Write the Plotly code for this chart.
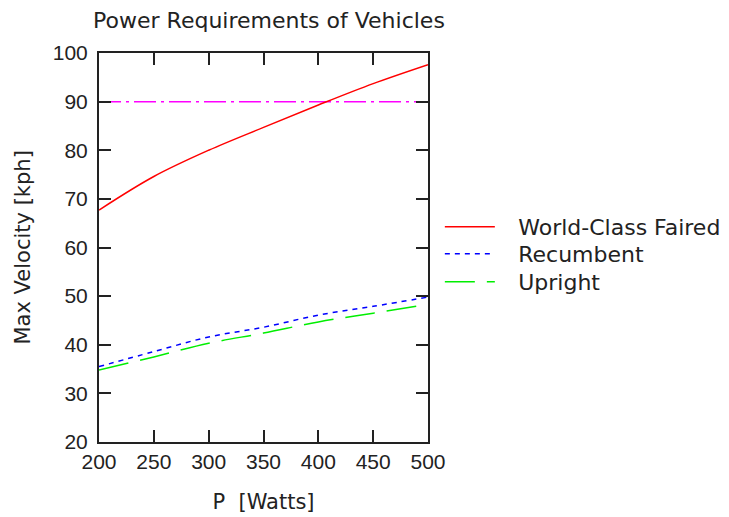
import plotly.graph_objects as go

power = [200, 250, 300, 350, 400, 450, 500]
faired = [67.7, 74.6, 80.0, 84.7, 89.3, 93.7, 97.6]
recumbent = [35.5, 38.6, 41.6, 43.6, 46.1, 47.9, 49.8]
upright = [34.8, 37.5, 40.3, 42.4, 44.7, 46.5, 48.3]
target_x = [200, 500]
target_v = [90, 90]
series_names = ["World-Class Faired", "Recumbent", "Upright"]

FONT = "Liberation Sans, Arial, sans-serif"
WFONT = "DejaVu Sans, sans-serif"
TXT = "#222"
PAD = "\u00a0\u00a0\u2009"
fig = go.Figure()
fig.add_trace(go.Scatter(x=target_x, y=target_v, mode="lines", showlegend=False,
                         line=dict(color="#ff00ff", width=1.5, dash="22px,5px,3px,5px")))
fig.add_trace(go.Scatter(x=power, y=faired, mode="lines", name=PAD + series_names[0], legend="legend",
                         line=dict(color="#ff0000", width=1.5, shape="spline")))
fig.add_trace(go.Scatter(x=power, y=recumbent, mode="lines", name=PAD + series_names[1], legend="legend2",
                         line=dict(color="#0000ff", width=1.5, dash="5px,5px", shape="spline")))
fig.add_trace(go.Scatter(x=power, y=upright, mode="lines", name=PAD + series_names[2], legend="legend3",
                         line=dict(color="#00ee00", width=1.5, dash="30px,12px", shape="spline")))

axis_common = dict(showgrid=False, zeroline=False, showline=True, linecolor=TXT,
                   linewidth=2, mirror="ticks", ticks="inside", ticklen=12, tickwidth=2,
                   tickcolor=TXT, tickfont=dict(family=FONT, size=21, color=TXT))
fig.update_xaxes(range=[200, 500], tickvals=[200, 250, 300, 350, 400, 450, 500],
                 title=dict(text="P  [Watts]", font=dict(family=WFONT, size=21, color=TXT), standoff=22),
                 **axis_common)
fig.update_yaxes(range=[20, 100], tickvals=[20, 30, 40, 50, 60, 70, 80, 90, 100],
                 ticklabelstandoff=5, **axis_common)
fig.add_annotation(text="Max Velocity [kph]", textangle=-90, xref="paper", yref="paper",
                   x=-0.234, y=0.5, xanchor="center", yanchor="middle", showarrow=False,
                   font=dict(family=WFONT, size=21, color=TXT))
leg_common = dict(x=1.036, xanchor="left", yanchor="middle", font=dict(family=WFONT, size=22, color=TXT),
                  bgcolor="rgba(0,0,0,0)", itemwidth=50)
fig.update_layout(
    width=729, height=517,
    margin=dict(l=91, r=309, t=45, b=83, autoexpand=False),
    paper_bgcolor="white", plot_bgcolor="white",
    title=dict(text="Power Requirements of Vehicles", x=0.358, xanchor="center", y=0.977, yanchor="middle",
               font=dict(family=WFONT, size=22, color=TXT)),
    legend=dict(y=0.5527, **leg_common),
    legend2=dict(y=0.4833, **leg_common),
    legend3=dict(y=0.4113, **leg_common),
    font=dict(family=FONT, size=21, color=TXT),
)
fig.write_html("out.html")
